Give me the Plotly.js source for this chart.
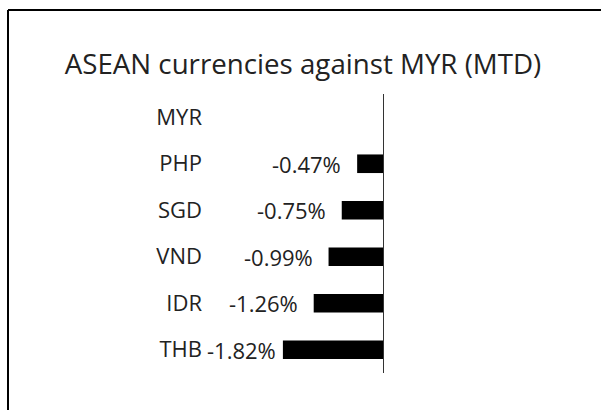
<!DOCTYPE html>
<html>
<head>
<meta charset="utf-8">
<script src="https://cdn.plot.ly/plotly-3.0.1.min.js"></script>
<style>
html,body{margin:0;padding:0;background:#fff;}
#chart{width:601px;height:410px;}
</style>
</head>
<body>
<div id="chart"></div>
<script>
// Data
const currencies = ["MYR", "PHP", "SGD", "VND", "IDR", "THB"];
const changes = [null, -0.47, -0.75, -0.99, -1.26, -1.82];
const valueLabels = ["", "-0.47%", "-0.75%", "-0.99%", "-1.26%", "-1.82%"];
const chartTitle = "ASEAN currencies against MYR (MTD)";

const W = 601, H = 410;
const M = {l: 210, r: 201, t: 94, b: 37};
const pw = W - M.l - M.r, ph = H - M.t - M.b;
const FONT = "'Open Sans', sans-serif";
const TXT = "#222";

// paper coords for the frame lines
const px = x => (x - M.l) / pw;
const py = y => 1 - (y - M.t) / ph;

const minVal = Math.min(...changes.filter(v => v !== null));
const annotations = [];
currencies.forEach((c, i) => {
  if (changes[i] === null) return;
  annotations.push({
    x: changes[i], y: c, xref: "x", yref: "y",
    text: valueLabels[i], showarrow: false,
    xanchor: "right", yanchor: "middle",
    xshift: changes[i] === minVal ? -5 : -14,
    font: {family: FONT, size: 22, color: TXT}
  });
});

const trace = {
  type: "bar",
  orientation: "h",
  y: currencies,
  x: changes,
  marker: {color: "#000000"},
  width: 0.4,
  hoverinfo: "none"
};

const layout = {
  width: W, height: H,
  margin: M,
  paper_bgcolor: "#fff",
  plot_bgcolor: "#fff",
  showlegend: false,
  title: {
    text: chartTitle,
    font: {family: FONT, size: 27.7, color: TXT},
    x: 303 / W, xref: "container", xanchor: "center",
    y: 1 - 64 / H, yref: "container", yanchor: "middle"
  },
  xaxis: {
    range: [-(383 - M.l) / 55, (M.l + pw - 383) / 55],
    showgrid: false, showticklabels: false, ticks: "",
    zeroline: true, zerolinecolor: "#333", zerolinewidth: 1,
    showline: false, fixedrange: true
  },
  yaxis: {
    type: "category",
    categoryorder: "array", categoryarray: currencies,
    autorange: "reversed",
    showgrid: false, zeroline: false, showline: false, ticks: "",
    ticklabelstandoff: 7,
    tickfont: {family: FONT, size: 22, color: TXT},
    fixedrange: true
  },
  annotations: annotations,
  shapes: [
    {type: "line", xref: "paper", yref: "paper",
     x0: px(8), x1: px(W + 5), y0: py(10), y1: py(10),
     line: {color: "#000", width: 2}},
    {type: "line", xref: "paper", yref: "paper",
     x0: px(8), x1: px(8), y0: py(10), y1: py(H + 5),
     line: {color: "#000", width: 2}}
  ]
};

Plotly.newPlot("chart", [trace], layout, {displayModeBar: false, staticPlot: true});
</script>
</body>
</html>
